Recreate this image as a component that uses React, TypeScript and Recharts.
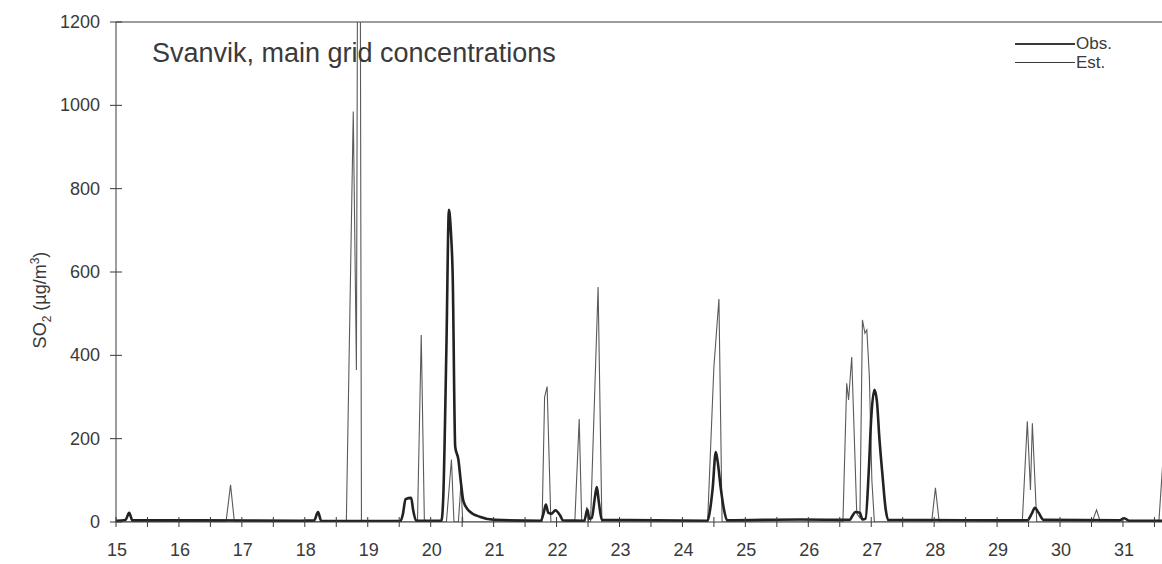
import React from "react";
import { Line, LineChart, ReferenceLine, XAxis, YAxis } from "recharts";

// days of month (hourly series)
const obsDays = [
  15.0, 15.15, 15.21, 15.26, 16.34, 17.93, 18.15, 18.21, 18.26, 19.52, 19.56, 19.6, 19.69, 19.72, 19.77,
  20.17, 20.2, 20.25, 20.29, 20.32, 20.35, 20.39, 20.44, 20.48, 20.52, 20.6, 20.79, 21.02,
  21.75, 21.8, 21.83, 21.87, 21.92, 21.98, 22.06, 22.1, 22.44, 22.49, 22.52, 22.56, 22.61, 22.64, 22.67, 22.72,
  24.4, 24.44, 24.48, 24.53, 24.56, 24.61, 24.66, 24.71, 25.87, 26.66, 26.69, 26.75, 26.82, 26.86,
  26.91, 26.96, 27.0, 27.05, 27.09, 27.13, 27.18, 27.23, 27.27, 29.04, 29.48, 29.55, 29.6, 29.66, 29.74,
  30.94, 31.02, 31.1, 31.64,
];
const obsValues = [
  3, 5, 22, 4, 4, 3, 4, 24, 3, 2, 20, 55, 58, 30, 3,
  3, 60, 420, 749, 700, 590, 180, 150, 95, 50, 28, 12, 5,
  3, 25, 42, 22, 20, 28, 15, 4, 3, 30, 8, 10, 60, 84, 50, 5,
  3, 30, 80, 168, 145, 80, 30, 4, 6, 5, 12, 24, 22, 6,
  8, 120, 250, 317, 290, 200, 110, 30, 5, 4, 4, 20, 34, 22, 5,
  4, 9, 3, 3,
];

const estDays = [
  15.0, 16.75, 16.82, 16.88, 18.66, 18.77, 18.82, 18.84, 18.88, 18.9, 19.79, 19.85, 19.9,
  20.25, 20.33, 20.37, 20.44, 20.48, 20.51, 21.77, 21.81, 21.85, 21.91, 22.29, 22.36, 22.4,
  22.45, 22.48, 22.51, 22.54, 22.66, 22.72, 24.4, 24.5, 24.58, 24.63,
  26.55, 26.61, 26.64, 26.69, 26.77, 26.82, 26.86, 26.9, 26.93, 26.97, 27.01, 27.05,
  27.96, 28.02, 28.08, 29.4, 29.48, 29.53, 29.56, 29.63, 30.51, 30.58, 30.64, 31.57, 31.64,
];
const estValues = [
  0, 2, 89, 2, 0, 985, 365, 1450, 1450, 0, 0, 449, 0,
  0, 150, 0, 0, 90, 0, 0, 300, 325, 0, 0, 247, 0,
  0, 36, 0, 0, 564, 0, 0, 372, 535, 0,
  0, 333, 293, 396, 20, 10, 485, 453, 461, 350, 100, 0,
  0, 82, 0, 0, 242, 77, 237, 0, 0, 29, 0, 0, 160,
];

const dayTicks = [
  15, 15.5, 16, 16.5, 17, 17.5, 18, 18.5, 19, 19.5, 20, 20.5, 21, 21.5, 22, 22.5, 23, 23.5,
  24, 24.5, 25, 25.5, 26, 26.5, 27, 27.5, 28, 28.5, 29, 29.5, 30, 30.5, 31, 31.5,
];
const concTicks = [0, 200, 400, 600, 800, 1000, 1200];

const obsData = obsDays.map((d, i) => ({ day: d, obs: obsValues[i] }));
const estData = estDays.map((d, i) => ({ day: d, est: estValues[i] }));

const font = "'Liberation Sans', Arial, sans-serif";
const ink = "#3a3a3a";

function XTick({ x, y, payload }: any) {
  const v = payload.value;
  return (
    <g>
      <line x1={x} x2={x} y1={y - 5} y2={y + 5} stroke={ink} strokeWidth={1} />
      {Number.isInteger(v) && (
        <text x={x + 1} y={y + 34} textAnchor="middle" fontSize={18} fill={ink} fontFamily={font}>
          {v}
        </text>
      )}
    </g>
  );
}

function YTick({ x, y, payload }: any) {
  return (
    <g>
      <line x1={x - 6} x2={x + 6} y1={y} y2={y} stroke={ink} strokeWidth={1} />
      <text x={x - 16} y={y + 6} textAnchor="end" fontSize={18} fill={ink} fontFamily={font}>
        {payload.value}
      </text>
    </g>
  );
}

function YLabel() {
  return (
    <text
      transform="translate(46, 300) rotate(-90)"
      textAnchor="middle"
      fontSize={18}
      fill={ink}
      fontFamily={font}
    >
      SO<tspan fontSize={12} dy={5}>2</tspan>
      <tspan dy={-5}> (µg/m</tspan>
      <tspan fontSize={12} dy={-7}>3</tspan>
      <tspan dy={7}>)</tspan>
    </text>
  );
}

function LegendBox() {
  const row = (label: string, w: number) => (
    <div style={{ display: "flex", alignItems: "center", height: 19 }}>
      <div style={{ width: 60, height: 0, borderTop: `${w}px solid ${ink}` }} />
      <span style={{ marginLeft: 1, fontSize: 17, color: ink, fontFamily: font }}>{label}</span>
    </div>
  );
  return (
    <div style={{ position: "absolute", left: 1015, top: 34 }}>
      {row("Obs.", 2.5)}
      {row("Est.", 1)}
    </div>
  );
}

export default function App() {
  return (
    <div style={{ position: "absolute", left: 0, top: 0, width: 1162, height: 564, background: "#fff" }}>
      <LineChart width={1162} height={564} margin={{ top: 22, right: 0, left: 0, bottom: 0 }}>
        <XAxis
          dataKey="day"
          type="number"
          domain={[15, 31.62]}
          ticks={dayTicks}
          allowDataOverflow
          height={42}
          tickSize={0}
          tickMargin={0}
          tick={<XTick />}
          axisLine={{ stroke: ink }}
          tickLine={false}
          interval={0}
        />
        <YAxis
          type="number"
          domain={[0, 1200]}
          ticks={concTicks}
          allowDataOverflow
          width={116}
          tickSize={0}
          tickMargin={0}
          tick={<YTick />}
          axisLine={{ stroke: ink }}
          tickLine={false}
          interval={0}
          label={<YLabel />}
        />
        <ReferenceLine y={1200} stroke={ink} strokeWidth={1} />
        <Line
          data={estData}
          dataKey="est"
          type="linear"
          stroke="#5a5a5a"
          strokeWidth={1.1}
          dot={false}
          isAnimationActive={false}
        />
        <Line
          data={obsData}
          dataKey="obs"
          type="monotone"
          stroke="#222"
          strokeWidth={2.6}
          dot={false}
          isAnimationActive={false}
        />
      </LineChart>
      <LegendBox />
      <div
        style={{
          position: "absolute",
          left: 152,
          top: 38,
          fontSize: 27,
          color: ink,
          fontFamily: font,
          whiteSpace: "nowrap",
          pointerEvents: "none",
        }}
      >
        Svanvik, main grid concentrations
      </div>
    </div>
  );
}
